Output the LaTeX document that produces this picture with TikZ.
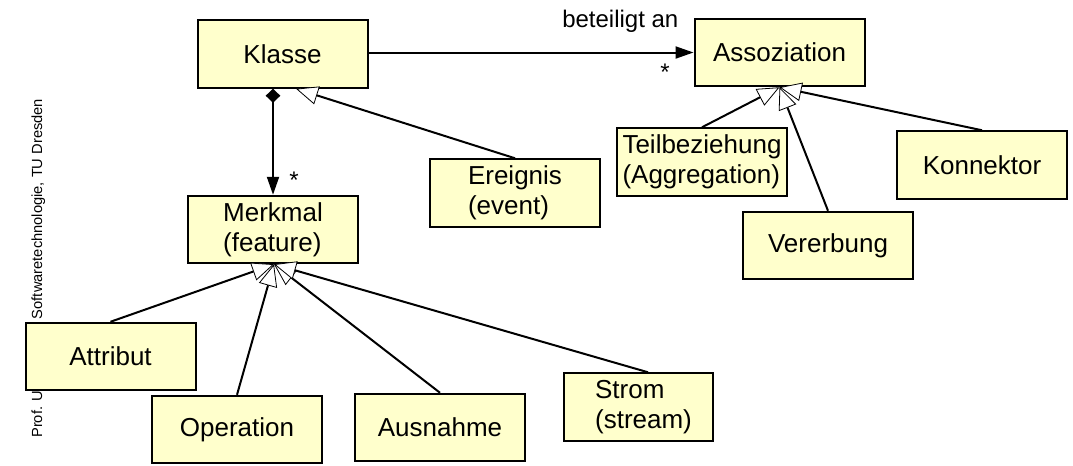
\documentclass[tikz,border=0pt]{standalone}
\usepackage{fontspec}
\setmainfont{Liberation Sans}
\usetikzlibrary{arrows.meta,calc}
\definecolor{boxfill}{RGB}{255,255,204}
\begin{document}
\begin{tikzpicture}[x=0.75pt,y=-0.75pt,
  cls/.style={draw=black,line width=1.5pt,fill=boxfill,minimum width=127.5pt,minimum height=50.6pt,inner sep=0pt,align=left,font=\fontsize{19.5}{22.5}\selectfont},
  gen/.style={line width=1.5pt,-{Triangle[open,length=16.5pt,width=14pt,line width=0.6pt,fill=white]}},
  assoc/.style={line width=1.5pt,-{Triangle[length=13.5pt,width=9pt]}},
  comp/.style={line width=1.5pt,{Diamond[length=10.5pt,width=11pt]}-{Triangle[length=13.5pt,width=9pt]}},
  lbl/.style={font=\fontsize{18}{21}\selectfont,inner sep=0pt},
  foot/.style={font=\fontsize{11}{13}\selectfont,inner sep=0pt}]
\useasboundingbox (0,0) rectangle (1073,465);

% footer (partly covered by Attribut box)
\node[foot,rotate=90,anchor=base west] (footer) at (42,438) {Prof. U. Aßmann, Softwaretechnologie, TU Dresden};

% classes
\node[cls] (klasse) at (282.5,54) {Klasse};
\node[cls] (assoz) at (779.5,52.5) {Assoziation};
\node[cls] (merkmal) at (273,229.5) {Merkmal\\(feature)};
\node[cls] (ereignis) at (515,193) {Ereignis\\(event)};
\node[cls] (teil) at (702,162) {Teilbeziehung\\(Aggregation)};
\node[cls] (vererb) at (828,245.5) {Vererbung};
\node[cls] (konn) at (982,165) {Konnektor};
\node[cls] (attr) at (110.5,356.5) {Attribut};
\node[cls] (oper) at (237,429.5) {Operation};
\node[cls] (ausn) at (440,427.5) {Ausnahme};
\node[cls,minimum width=111.75pt] (strom) at (638.5,407) {\hspace*{7.5pt}Strom\\\hspace*{7.5pt}(stream)};

% association
\draw[assoc] (klasse.east |- assoz.west) -- (assoz.west);
\node[lbl,anchor=base west] (betlbl) at (562,27) {beteiligt an};
\node[lbl] (star1) at (665,72) {*};

% composition
\draw[comp] (merkmal.north |- klasse.south) -- (merkmal.north);
\node[lbl] (star2) at (294,180) {*};

% generalizations
\coordinate (kTip) at ($(klasse.south)+(13.5,0)$);
\coordinate (mTip) at ($(merkmal.south)+(1,0)$);
\coordinate (aTip) at (assoz.south);
\coordinate (sTop) at ($(strom.north)+(9.5,0)$);
\draw[gen] (ereignis.north) -- (kTip);
\draw[gen] (teil.north) -- (aTip);
\draw[gen] (vererb.north) -- (aTip);
\draw[gen] (konn.north) -- (aTip);
\draw[gen] (attr.north) -- (mTip);
\draw[gen] (oper.north) -- (mTip);
\draw[gen] (ausn.north) -- (mTip);
\draw[gen] (sTop) -- (mTip);
\end{tikzpicture}
\end{document}
